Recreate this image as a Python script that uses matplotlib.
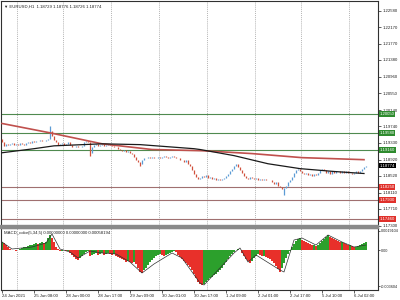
import matplotlib.pyplot as plt
import matplotlib.transforms as mtransforms
from matplotlib.patches import Rectangle

plt.rcParams['font.family'] = ['Liberation Sans', 'DejaVu Sans']

# H1 closes, one per bar (24 Jun 2021 .. 6 Jul 2021)
closes = [
    1.1936, 1.1926, 1.1931,
    1.1929, 1.1931, 1.1934, 1.1929, 1.1931, 1.1929, 1.1933, 1.1931, 1.1929,
    1.1934, 1.1936, 1.1934, 1.1938, 1.1936, 1.1939, 1.1938, 1.1941, 1.1939, 1.1938, 1.1941, 1.1944,
    1.1963,
    1.1951, 1.1941, 1.1936, 1.1929,
    1.1931, 1.1934, 1.1929, 1.1931, 1.1936, 1.1929,
    1.1924, 1.1922, 1.1926, 1.1922, 1.1924, 1.1926,
    1.1936, 1.1939, 1.1936,
    1.1909, 1.1922,
    1.1929, 1.1931, 1.1926, 1.1929, 1.1931, 1.1926, 1.1929, 1.1931, 1.1929,
    1.1926, 1.1922, 1.1924, 1.1919, 1.1917, 1.1914, 1.1917, 1.1912, 1.1914, 1.1909,
    1.1907, 1.1899, 1.1892, 1.1887, 1.1882,
    1.1890, 1.1897, 1.1895,
    1.1899, 1.1897, 1.1899, 1.1897, 1.1895, 1.1899, 1.1897, 1.1899, 1.1902, 1.1899,
    1.1897, 1.1899, 1.1902, 1.1899, 1.1897,
    1.1895, 1.1890, 1.1892, 1.1887, 1.1890, 1.1882, 1.1877,
    1.1867, 1.1858, 1.1850, 1.1845, 1.1848,
    1.1853, 1.1850, 1.1855, 1.1848,
    1.1850, 1.1845, 1.1848, 1.1843, 1.1845, 1.1841, 1.1845, 1.1848,
    1.1853, 1.1858, 1.1863, 1.1870, 1.1877,
    1.1882, 1.1875,
    1.1867, 1.1860, 1.1853, 1.1848, 1.1845,
    1.1850, 1.1848, 1.1845, 1.1848, 1.1843, 1.1845, 1.1841, 1.1845, 1.1843, 1.1841, 1.1843,
    1.1838, 1.1833, 1.1836, 1.1828, 1.1826, 1.1821, 1.1823,
    1.1828, 1.1838, 1.1843, 1.1850, 1.1860,
    1.1867, 1.1870,
    1.1865, 1.1860, 1.1858, 1.1860, 1.1855, 1.1858, 1.1853, 1.1858, 1.1855, 1.1860,
    1.1867, 1.1870, 1.1867,
    1.1860, 1.1863, 1.1858,
    1.1863, 1.1860, 1.1863, 1.1865, 1.1860, 1.1863, 1.1860, 1.1863, 1.1860,
    1.1860, 1.1858, 1.1860, 1.1863, 1.1860, 1.1863,
    1.1870, 1.1875, 1.1877,
]
first_open = 1.1939
wick_highs = {0: 1.1944, 24: 1.1975}
wick_lows = {44: 1.1902, 69: 1.1877, 141: 1.1804}

# moving averages read at a few bars
red_ma_bars = [0, 24, 50, 75, 100, 125, 150, 181]
red_ma = [1.1981, 1.1958, 1.1931, 1.1917, 1.1914, 1.1907, 1.1897, 1.1892]
black_ma_bars = [0, 16, 26, 50, 69, 96, 99, 116, 133, 149, 166, 181]
black_ma = [1.1909, 1.1919, 1.1926, 1.1931, 1.1929, 1.1919, 1.1917, 1.1902, 1.1882, 1.1870, 1.1863, 1.1858]

support_green = [1.20050, 1.19580, 1.19160]
support_red = [1.18250, 1.17930, 1.17460]
last_price = 1.18774

price_ticks = [1.22580, 1.22170, 1.21770, 1.21380, 1.20960, 1.20550, 1.20140,
               1.19740, 1.19330, 1.18920, 1.18520, 1.18110, 1.17710, 1.17300]

# MACD histogram in units of 1e-4
macd_hist = [
    8, 7, 5,
    3, 1, 0, 0, -1, 0, 1,
    2, 3, 3, 4, 5, 5, 6,
    7, 6, 7, 8, 7, 8,
    12, 15,
    12, 8, 3,
    1, -1, -1, 0, -1, -1,
    -3, -5, -7, -9, -10,
    -8, -6, -4, -2, -1,
    -6, -5,
    -4, -3, -5, -4, -3, -5, -4, -3, -4, -5, -4,
    -6, -7, -8, -9, -10, -12,
    -11, -12, -13, -12, -14,
    -18, -22, -23,
    -20, -18, -15, -12, -10, -8, -6, -5,
    -4, -5, -6, -5, -4, -3,
    -2, -1, -2,
    -5, -7, -9, -11, -13, -15,
    -17, -20, -24, -28, -32, -34,
    -35, -34,
    -32, -30, -28, -27, -25, -24, -22, -20, -18, -15, -12, -9, -6, -4, -2,
    0, 1, 0,
    -3, -6, -9, -11, -13,
    -11, -8, -6, -4,
    -5, -6, -6, -7, -8, -9, -11, -13, -16, -19, -22,
    -18, -13, -8, -4, -1,
    3, 6, 9, 11, 12,
    10, 9, 8, 7, 6, 5, 5, 4, 5,
    7, 9, 11, 13, 15,
    13, 12, 11, 10, 9, 8, 8, 7,
    6, 5, 5, 4, 3, 3, 4,
    5, 6, 7, 8,
]
signal_bars = [0, 5, 15, 22, 25, 29, 34, 38, 44, 50, 57, 64, 70, 76, 85, 90, 99, 101,
               116, 119, 123, 127, 139, 141, 146, 150, 157, 163, 170, 176, 182]
signal = [8, 1, 3, 7, 16, 1, -2, -8, -1, -3, -4, -12, -23, -14, -3, -8, -33, -35,
          -3, 2, -12, -5, -20, -22, 10, 12, 5, 15, 8, 3, 5]
macd_ticks = [0.0019104, 0.0, -0.003604]
macd_tick_labels = ['0.0019104', '0.00', '-0.003604']

grid_bars = [7.5, 30.5, 54.5, 78.5, 102.5, 126.5, 149.5, 173.5]
time_bars = [0, 16, 32, 48, 64, 80, 96, 112, 128, 144, 160, 176]
time_labels = ['24 Jun 2021', '25 Jun 08:00', '28 Jun 00:00', '28 Jun 17:00',
               '29 Jun 09:00', '30 Jun 01:00', '30 Jun 17:00', '1 Jul 09:00',
               '2 Jul 01:00', '2 Jul 17:00', '5 Jul 10:00', '6 Jul 02:00']

FS = 3.1
W, H = 400, 300
fig = plt.figure(figsize=(4, 3), dpi=100)
ax = fig.add_axes([1 / W, 1 - 226 / H, 377 / W, 225 / H])
ax2 = fig.add_axes([1 / W, 10 / H, 377 / W, 62 / H], sharex=ax)

ax.set_xlim(-0.5, 188)
ax.set_ylim(1.1729, 1.2282)
ax2.set_ylim(-0.0040, 0.0022)

for a in (ax, ax2):
    for bx in grid_bars:
        a.axvline(bx, color='#9a9a9a', lw=0.5, ls=(0, (1.5, 1.5)), zorder=0)
    for s in a.spines.values():
        s.set_linewidth(0.8)
        s.set_color('#303030')

# support / resistance lines
for p in support_green:
    ax.axhline(p, color='#4f8a4f', lw=0.8, zorder=1)
for p in support_red:
    ax.axhline(p, color='#a07070', lw=0.8, zorder=1)

# candles
opens = [first_open] + closes[:-1]
for i, (o, c) in enumerate(zip(opens, closes)):
    lo = wick_lows.get(i, min(o, c))
    hi = wick_highs.get(i, max(o, c))
    col = '#5b9bd5' if c >= o else '#d0503c'
    ax.vlines(i, lo, hi, color=col, lw=0.9, zorder=3)

ax.plot(red_ma_bars, red_ma, color='#c0504d', lw=1.2, zorder=4)
ax.plot(black_ma_bars, black_ma, color='#1a1a1a', lw=0.9, zorder=5)

ax.yaxis.tick_right()
ax.set_yticks(price_ticks)
ax.set_yticklabels(['%.5f' % t for t in price_ticks])
ax.tick_params(axis='y', labelsize=FS, length=2, width=0.5, pad=1, colors='#202020')
ax.tick_params(axis='x', bottom=False, labelbottom=False)

tr = mtransforms.blended_transform_factory(ax.transAxes, ax.transData)
for p in support_green:
    ax.text(1.004, p, '%.5f' % p, transform=tr, fontsize=FS, color='white', va='center',
            ha='left', bbox=dict(facecolor='#2e8b2e', edgecolor='none', pad=0.6), zorder=6,
            clip_on=False)
for p in support_red:
    ax.text(1.004, p, '%.5f' % p, transform=tr, fontsize=FS, color='white', va='center',
            ha='left', bbox=dict(facecolor='#e0302a', edgecolor='none', pad=0.6), zorder=6,
            clip_on=False)
ax.text(1.004, last_price, '%.5f' % last_price, transform=tr, fontsize=FS, color='white',
        va='center', ha='left', bbox=dict(facecolor='black', edgecolor='none', pad=0.6),
        zorder=6, clip_on=False)

ax.text(0.008, 0.985, '\u25bc EURUSD,H1  1.18729 1.18776 1.18726 1.18774', transform=ax.transAxes,
        fontsize=FS, va='top', ha='left', color='#202020')

# MACD panel
vals = [v * 1e-4 for v in macd_hist]
cols = []
for i, v in enumerate(vals):
    prev = vals[i - 1] if i > 0 else v
    cols.append('#2ca02c' if v >= prev else '#e8302a')
ax2.bar(range(len(vals)), vals, width=0.65, color=cols, zorder=2)
ax2.plot(signal_bars, [s * 1e-4 for s in signal], color='#303030', lw=0.5, zorder=3)
ax2.yaxis.tick_right()
ax2.set_yticks(macd_ticks)
ax2.set_yticklabels(macd_tick_labels)
ax2.tick_params(axis='y', labelsize=2.7, length=1.5, width=0.5, pad=0.5, colors='#202020')
ax2.set_xticks(time_bars)
ax2.set_xticklabels(time_labels, ha='left')
ax2.tick_params(axis='x', labelsize=FS, length=2, width=0.5, pad=1, colors='#202020')
ax2.text(0.008, 0.95, 'MACD_color(5,34,5) 0.00000000 0.00000000 0.00058194',
         transform=ax2.transAxes, fontsize=FS, va='top', ha='left', color='#202020')

# panel separator
fig.add_artist(Rectangle((0, 1 - 228 / H), 378 / W, 3 / H, transform=fig.transFigure,
                         color='#8a8a8a', zorder=10))

fig.savefig('out.png', dpi=100)
